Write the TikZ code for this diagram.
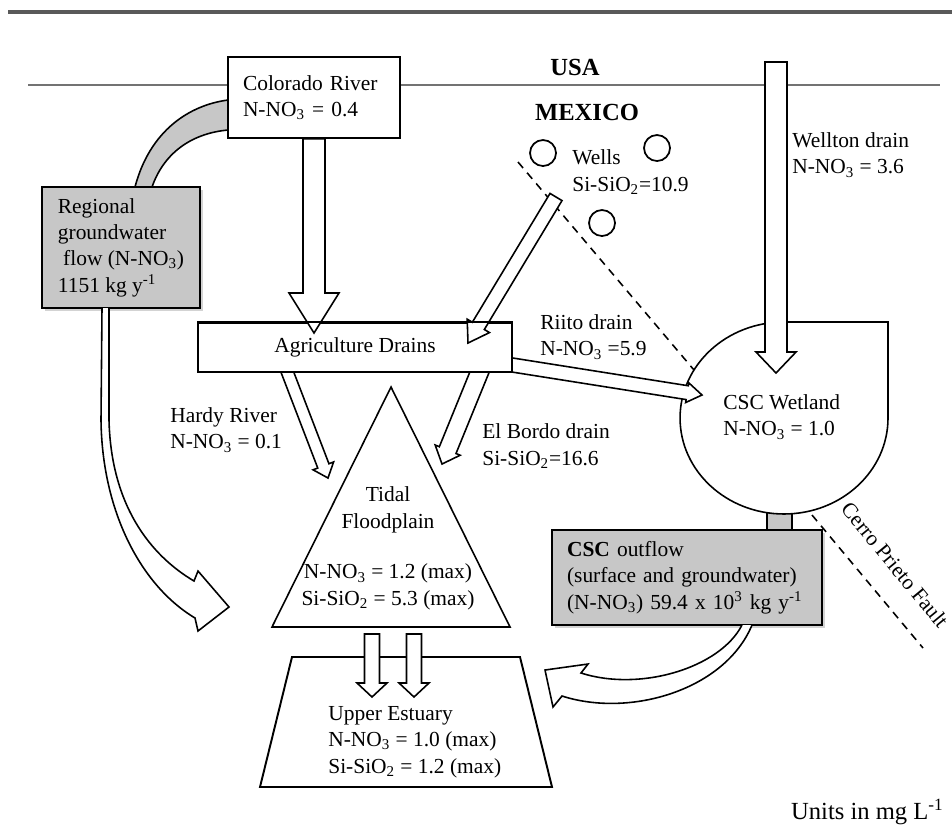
\documentclass[tikz,border=0pt]{standalone}
\usepackage{fontspec}
\setmainfont{Liberation Serif}
\usetikzlibrary{calc,shadows}

\tikzset{
  txt/.style={font=\fontsize{12.2}{15}\selectfont, inner sep=0pt, align=left},
  whitebox/.style={draw, line width=0.9pt, fill=white, font=\fontsize{12.2}{15}\selectfont,
    inner ysep=0pt, inner xsep=0.3cm, align=left},
  graybox/.style={whitebox, fill=black!22, line width=1.5pt,
    drop shadow={shadow xshift=1.5pt, shadow yshift=-1.5pt, opacity=0.35}},
  flow/.style={draw, line width=0.9pt, fill=white, line join=miter},
  fault/.style={draw, line width=0.9pt, dash pattern=on 4.5pt off 3.5pt},
  border/.style={draw, black!55, line width=1.3pt},
  well/.style={draw, line width=1pt, circle, minimum size=0.52cm, inner sep=0pt},
  country/.style={font=\fontsize{14}{16}\selectfont\bfseries, inner sep=0pt},
}

% hollow block arrow: start, tip, half shaft, half head, head length
\newcommand{\blockarrow}[5]{%
  \coordinate (ba-head) at ($(#2)!#5!(#1)$);
  \path[flow] ($(#1)!#3!90:(#2)$) -- ($(ba-head)!#3!90:(#2)$) -- ($(ba-head)!#4!90:(#2)$) -- (#2)
    -- ($(ba-head)!#4!-90:(#2)$) -- ($(ba-head)!#3!-90:(#2)$) -- ($(#1)!#3!-90:(#2)$) -- cycle;
}

\begin{document}
\begin{tikzpicture}[x=0.02cm, y=-0.02cm]
  \useasboundingbox (0,0) rectangle (952,826);

  % frame and border
  \draw[black!65, line width=2.2pt] (8,12) -- (952,12);
  \coordinate (bw) at (28,85);
  \coordinate (be) at (940,85);
  \draw[border] (bw) -- (be);
  \node[country] (usa) at (575,67) {USA};
  \node[country] (mexico) at (587,112) {MEXICO};

  % groundwater link to the river
  \path[draw, fill=black!22, line width=0.9pt] (135,187) .. controls (150,130) and (190,105) .. (228,100)
    -- (228,130) .. controls (195,133) and (165,150) .. (152,187) -- cycle;

  \node[whitebox, text width=2.84cm, minimum height=1.62cm] (colorado) at (314,97.5)
    {Colorado River\\N-NO\textsubscript{3} = 0.4};
  \node[graybox, minimum width=3.16cm, minimum height=2.42cm, inner xsep=0pt] (regional) at (121,247.5)
    {Regional\\groundwater\\\hspace*{3pt}flow (N-NO\textsubscript{3})\\1151 kg y\textsuperscript{-1}};

  \path[flow] (102,308) -- (101,420) .. controls (102,510) and (140,585) .. (195,618)
    -- (198,631) -- (229,607) -- (198,571) -- (194,581)
    .. controls (150,555) and (111,505) .. (109,420) -- (109,308);

  % wells
  \node[well] (well1) at (543,153) {};
  \node[well] (well2) at (657,148) {};
  \node[well] (well3) at (602,223) {};
  \node[txt, anchor=west] (wells) at (572,172) {Wells\\Si-SiO\textsubscript{2}=10.9};
  \draw[fault] (518,162) -- (694,370);

  % CSC wetland
  \path[draw, fill=black!22, line width=0.9pt] (767,505) rectangle (792,532);
  \path[draw, fill=white, line width=0.9pt] (784,322) -- (888,322) -- (888,418)
    arc[start angle=0, end angle=-270, x radius=2.08cm, y radius=1.92cm] -- cycle;
  \node[txt, anchor=west] (wetland) at (723,417) {CSC Wetland\\N-NO\textsubscript{3} = 1.0};
  \coordinate (wt-s) at (776,62);
  \coordinate (wt-t) at (776,373);
  \blockarrow{wt-s}{wt-t}{0.22cm}{0.4cm}{0.42cm}
  \node[txt, anchor=west] (wellton) at (792,155) {Wellton drain\\N-NO\textsubscript{3} = 3.6};
  \draw[fault] (812,515) -- (923,648);
  \node[txt, rotate=-50.5] (cerro) at (895,565) {Cerro Prieto Fault};

  % agriculture drains and its flows
  \coordinate (hr-s) at (285,366);
  \coordinate (hr-t) at (328,478);
  \coordinate (eb-s) at (482,366);
  \coordinate (eb-t) at (442,464);
  \coordinate (ri-s) at (506,364);
  \coordinate (ri-t) at (702,395);
  \blockarrow{hr-s}{hr-t}{0.12cm}{0.22cm}{0.26cm}
  \blockarrow{eb-s}{eb-t}{0.18cm}{0.27cm}{0.3cm}
  \blockarrow{ri-s}{ri-t}{0.14cm}{0.2cm}{0.3cm}
  \node[whitebox, minimum width=6.28cm, minimum height=0.98cm, align=center] (agri) at (355,347.5)
    {Agriculture Drains};
  \coordinate (co-t) at (314,333);
  \coordinate (we-s) at (556,197);
  \coordinate (we-t) at (468,343);
  \blockarrow{colorado.south}{co-t}{0.22cm}{0.5cm}{0.8cm}
  \blockarrow{we-s}{we-t}{0.14cm}{0.26cm}{0.4cm}
  \draw[line width=0.9pt] (agri.north west) -- (agri.north east);

  \node[txt, anchor=west] (hardy) at (170,430) {Hardy River\\N-NO\textsubscript{3} = 0.1};
  \node[txt, anchor=west] (elbordo) at (482,446) {El Bordo drain\\Si-SiO\textsubscript{2}=16.6};
  \node[txt, anchor=west] (riito) at (540,337) {Riito drain\\N-NO\textsubscript{3} =5.9};

  % tidal floodplain
  \coordinate (tf-top) at (391,387);
  \coordinate (tf-left) at (272,627);
  \coordinate (tf-right) at (510,627);
  \draw[line width=0.9pt, line join=miter] (tf-top) -- (tf-right) -- (tf-left) -- cycle;
  \node[txt, align=center] (tidal) at (388,510) {Tidal\\Floodplain};
  \node[txt, align=center] (tidalval) at (388,587)
    {N-NO\textsubscript{3} = 1.2 (max)\\Si-SiO\textsubscript{2} = 5.3 (max)};

  % upper estuary
  \draw[line width=1.1pt, line join=miter] (292,657) -- (520,657) -- (552,787) -- (260,787) -- cycle;
  \node[txt, anchor=west] (estuary) at (328,742)
    {Upper Estuary\\N-NO\textsubscript{3} = 1.0 (max)\\Si-SiO\textsubscript{2} = 1.2 (max)};
  \coordinate (d1-s) at (372,634);
  \coordinate (d1-t) at (372,697);
  \coordinate (d2-s) at (414,634);
  \coordinate (d2-t) at (414,697);
  \blockarrow{d1-s}{d1-t}{0.15cm}{0.3cm}{0.28cm}
  \blockarrow{d2-s}{d2-t}{0.15cm}{0.3cm}{0.28cm}

  % CSC outflow
  \node[graybox, text width=4.8cm, minimum height=1.9cm] (outflow) at (687,577.5)
    {\textbf{CSC} outflow\\(surface and groundwater)\\(N-NO\textsubscript{3}) 59.4 x 10\textsuperscript{3} kg y\textsuperscript{-1}};
  \path[flow] (742,625) .. controls (720,668) and (640,692) .. (581,673) -- (588,664) -- (545,670)
    -- (553,707) -- (562,696) .. controls (630,718) and (725,690) .. (752,625);

  \node[font=\fontsize{14}{16}\selectfont, inner sep=0pt, anchor=east] (units) at (944,812)
    {Units in mg L\textsuperscript{-1}};
\end{tikzpicture}
\end{document}
